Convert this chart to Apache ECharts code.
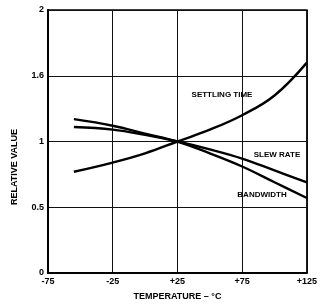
<!DOCTYPE html>
<html>
<head>
<meta charset="utf-8">
<script src="https://cdn.jsdelivr.net/npm/echarts@6/dist/echarts.min.js"></script>
<style>
  html, body { margin: 0; padding: 0; background: #fff; }
  #chart { width: 320px; height: 306px; }
</style>
</head>
<body>
<div id="chart"></div>
<script>
// temperatures (°C) where values are read
const temps = [-55, -25, 0, 25, 50, 75, 100, 125]
const settlingTime = [0.77, 0.84, 0.91, 1.0, 1.09, 1.2, 1.35, 1.6]
const slewRate = [1.11, 1.09, 1.05, 1.0, 0.94, 0.87, 0.78, 0.69]
const bandwidth = [1.17, 1.12, 1.06, 1.0, 0.91, 0.81, 0.69, 0.57]

// tick labels as printed
const xTicks = ['-75', '-25', '+25', '+75', '+125']
const yTicks = ['0', '0.5', '1', '1.6', '2']

const font = '"Liberation Sans", Arial, sans-serif'

function pairs(values) {
  return temps.map((t, i) => [t, values[i]])
}

const myChart = echarts.init(document.getElementById('chart'))
const lineSeries = (name, values) => ({
  name,
  type: 'line',
  data: pairs(values),
  smooth: 0.4,
  symbol: 'none',
  lineStyle: { color: '#000', width: 2.4 }
})

const labelStyle = {
  fontFamily: font,
  fontWeight: 'bold',
  fontSize: 8,
  fill: '#000',
  align: 'center',
  verticalAlign: 'middle'
}

const option = {
  animation: false,
  grid: {
    left: 48,
    right: 7,
    top: 10,
    bottom: 32,
    show: true,
    borderColor: '#000',
    borderWidth: 1.5
  },
  xAxis: {
    type: 'value',
    min: -75,
    max: 125,
    interval: 50,
    name: 'TEMPERATURE – °C',
    nameLocation: 'middle',
    nameGap: 19,
    nameTextStyle: { fontFamily: font, fontWeight: 'bold', fontSize: 9, color: '#000' },
    axisLine: { onZero: false, lineStyle: { color: '#000', width: 2 } },
    axisTick: { show: false },
    splitLine: { lineStyle: { color: '#111', width: 1 } },
    axisLabel: {
      margin: 4,
      fontFamily: font,
      fontWeight: 'bold',
      fontSize: 9,
      color: '#000',
      formatter: (v) => xTicks[Math.round((v + 75) / 50)]
    }
  },
  yAxis: {
    type: 'value',
    min: 0,
    max: 2,
    interval: 0.5,
    axisLine: { show: true, onZero: false, lineStyle: { color: '#000', width: 2 } },
    axisTick: { show: false },
    splitLine: { lineStyle: { color: '#111', width: 1 } },
    axisLabel: {
      margin: 4,
      fontFamily: font,
      fontWeight: 'bold',
      fontSize: 9,
      color: '#000',
      formatter: (v) => yTicks[Math.round(v / 0.5)]
    }
  },
  graphic: [
    {
      type: 'text',
      x: 15,
      y: 167,
      rotation: Math.PI / 2,
      style: Object.assign({}, labelStyle, { text: 'RELATIVE VALUE', fontSize: 9 })
    },
    { type: 'text', x: 222, y: 95, style: Object.assign({}, labelStyle, { text: 'SETTLING TIME' }) },
    { type: 'text', x: 277, y: 155, style: Object.assign({}, labelStyle, { text: 'SLEW RATE' }) },
    { type: 'text', x: 262, y: 195, style: Object.assign({}, labelStyle, { text: 'BANDWIDTH' }) }
  ],
  series: [
    lineSeries('Settling Time', settlingTime),
    lineSeries('Slew Rate', slewRate),
    lineSeries('Bandwidth', bandwidth)
  ]
}
myChart.setOption(option)
</script>
</body>
</html>
